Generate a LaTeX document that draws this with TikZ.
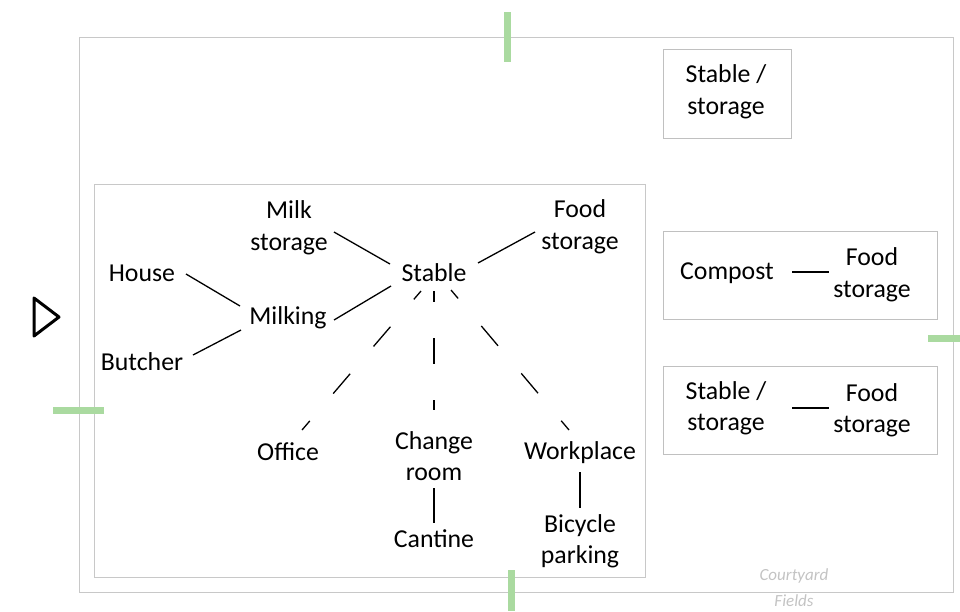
\documentclass[tikz,border=0pt]{standalone}
\usepackage{fontspec}
\setmainfont{Carlito}
\definecolor{frame}{RGB}{200,200,200}
\definecolor{boxline}{RGB}{192,192,192}
\definecolor{markergreen}{RGB}{170,218,160}
\definecolor{notegray}{RGB}{195,195,195}
\begin{document}
\begin{tikzpicture}[x=1pt,y=-1pt,
  lbl/.style={font=\fontsize{25.8}{31.5}\selectfont, align=center, inner sep=0pt},
  link/.style={line width=1.3pt, black},
  dashlink/.style={link, dash pattern=on 26pt off 36pt, dash phase=15pt},
  area/.style={draw=frame, line width=1pt},
  box/.style={draw=boxline, line width=1pt},
  marker/.style={draw=markergreen, line width=7pt},
  note/.style={font=\fontsize{17}{20}\selectfont\itshape, text=notegray, inner sep=0pt}]

\useasboundingbox (0,0) rectangle (960,611);

% yard outline and the barn floor
\draw[area] (79,37) rectangle (953,592);
\draw[area] (94,184) rectangle (645,577);

% separate buildings
\draw[box] (663,49) rectangle (791,138);
\draw[box] (663,231) rectangle (937,319);
\draw[box] (663,366) rectangle (937,454);

% gates
\draw[marker] (507,12) -- (507,62);
\draw[marker] (53,410) -- (104,410);
\draw[marker] (928,338) -- (960,338);
\draw[marker] (511,570) -- (511,611);

% entrance arrow
\draw[line width=3pt, line join=round] (34,298) -- (59,317) -- (34,336) -- cycle;

% rooms
\node[lbl] (milk)    at (289,228) {Milk\\storage};
\node[lbl] (stable)  at (434,273) {Stable};
\node[lbl] (food)    at (580,227) {Food\\storage};
\node[lbl] (house)   at (142,273) {House};
\node[lbl] (milking) at (288,318) {Milking};
\node[lbl] (butcher) at (142,362) {Butcher};
\node[lbl] (office)  at (288,452) {Office};
\node[lbl] (change)  at (434,456) {Change\\room};
\node[lbl] (work)    at (580,453) {Workplace};
\node[lbl] (cantine) at (434,539) {Cantine};
\node[lbl] (bike)    at (580,541) {Bicycle\\parking};

\node[lbl] (store)   at (726,92) {Stable /\\storage};
\node[lbl] (compost) at (727,273) {Compost};
\node[lbl] (foodA)   at (872,275) {Food\\storage};
\node[lbl] (storeB)  at (726,408) {Stable /\\storage};
\node[lbl] (foodB)   at (872,410) {Food\\storage};

% solid links
\draw[link] ([shift={(45,4)}]milk.center) -- ([shift={(-44,-9)}]stable.center);
\draw[link] ([shift={(44,-10)}]stable.center) -- ([shift={(-45,5)}]food.center);
\draw[link] ([shift={(44,1)}]house.center) -- ([shift={(-48,-12)}]milking.center);
\draw[link] ([shift={(51,-7)}]butcher.center) -- ([shift={(-47,12)}]milking.center);
\draw[link] ([shift={(46,2)}]milking.center) -- ([shift={(-43,13)}]stable.center);
\draw[link] ([shift={(0,32)}]change.center) -- ([shift={(0,-16)}]cantine.center);
\draw[link] ([shift={(0,19)}]work.center) -- ([shift={(0,-33)}]bike.center);
\draw[link] ([shift={(65,-1)}]compost.center) -- ([shift={(-43,-3)}]foodA.center);
\draw[link] ([shift={(66,0)}]storeB.center) -- ([shift={(-43,-2)}]foodB.center);

% dashed links
\draw[dashlink] ([shift={(-13,18)}]stable.center) -- ([shift={(14,-22)}]office.center);
\draw[dashlink] ([shift={(0,18)}]stable.center) -- ([shift={(0,-46)}]change.center);
\draw[dashlink] ([shift={(17,17)}]stable.center) -- ([shift={(-11,-23)}]work.center);

% outside labels
\node[note] (court)  at (794,576) {Courtyard};
\node[note] (fields) at (794,601) {Fields};
\end{tikzpicture}
\end{document}
